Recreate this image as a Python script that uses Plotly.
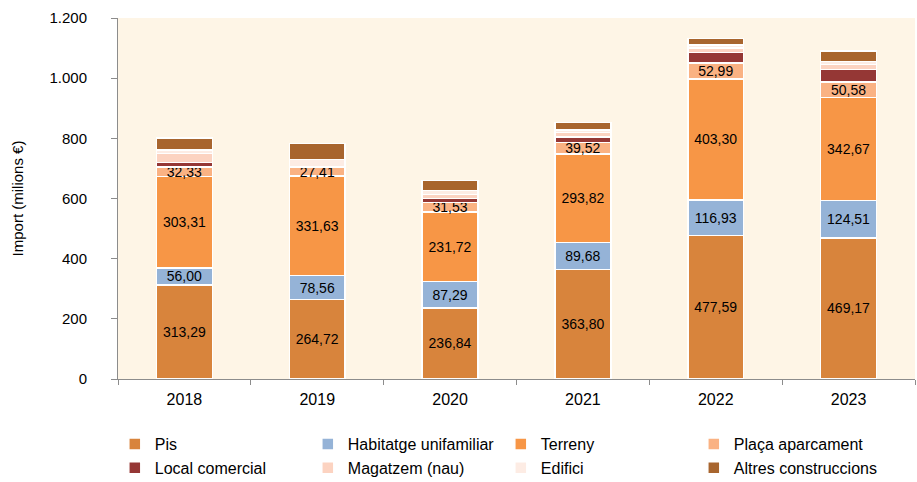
import plotly.graph_objects as go

years = ["2018", "2019", "2020", "2021", "2022", "2023"]

pis = [313.29, 264.72, 236.84, 363.80, 477.59, 469.17]
habitatge = [56.00, 78.56, 87.29, 89.68, 116.93, 124.51]
terreny = [303.31, 331.63, 231.72, 293.82, 403.30, 342.67]
placa = [32.33, 27.41, 31.53, 39.52, 52.99, 50.58]
local_comercial = [14, 1, 12, 18, 34, 42]
magatzem = [30, 2, 14, 14, 16, 16]
edifici = [12, 24, 14, 9, 9, 10]
altres = [40, 53, 33, 25, 22, 36]

series = [
    ("Pis", pis, "#D8843C", True),
    ("Habitatge unifamiliar", habitatge, "#95B3D7", True),
    ("Terreny", terreny, "#F79646", True),
    ("Plaça aparcament", placa, "#FAB283", True),
    ("Local comercial", local_comercial, "#953735", False),
    ("Magatzem (nau)", magatzem, "#FCD3C1", False),
    ("Edifici", edifici, "#FDECE4", False),
    ("Altres construccions", altres, "#A8652E", False),
]

FONT = "Liberation Sans, Arial, sans-serif"

fig = go.Figure()
for name, vals, color, show_lbl in series:
    fig.add_trace(go.Bar(
        x=years, y=vals, name=name,
        marker=dict(color=color, line=dict(color="white", width=1.5)),
        text=[f"{v:.2f}".replace(".", ",") for v in vals] if show_lbl else None,
        textposition="inside" if show_lbl else "none",
        insidetextanchor="middle",
        textangle=0,
        textfont=dict(family=FONT, size=14, color="black"),
        constraintext="none",
        hoverinfo="x+y+name",
    ))

fig.update_layout(
    barmode="stack",
    bargap=0.58,
    width=917, height=482,
    margin=dict(l=118, r=2, t=18, b=103, autoexpand=False),
    paper_bgcolor="white",
    plot_bgcolor="#FEF5E6",
    separators=",.",
    font=dict(family=FONT, size=14, color="black"),
    legend=dict(
        orientation="h",
        x=-0.004, xanchor="left",
        y=-0.133, yanchor="top",
        entrywidth=148,
        font=dict(family=FONT, size=16, color="black"),
        traceorder="normal",
        itemclick=False,
    ),
    showlegend=True,
)

fig.update_xaxes(
    type="category",
    showline=True, linecolor="#8C8C8C", linewidth=1,
    ticks="outside", tickson="boundaries", ticklen=5, tickcolor="#8C8C8C",
    ticklabelstandoff=6,
    tickfont=dict(family=FONT, size=16, color="black"),
    showgrid=False,
)
fig.update_yaxes(
    range=[0, 1200], dtick=200, tick0=0,
    separatethousands=True,
    showline=True, linecolor="#8C8C8C", linewidth=1,
    ticks="outside", ticklen=6, tickcolor="#8C8C8C",
    ticklabelstandoff=21,
    tickfont=dict(family=FONT, size=15, color="black"),
    showgrid=False, zeroline=False,
    title=dict(text="Import (milions €)", font=dict(family=FONT, size=15, color="black"), standoff=22),
)

fig.write_html("out.html", config={"displayModeBar": False},
               post_script="document.body.style.margin='0';")
